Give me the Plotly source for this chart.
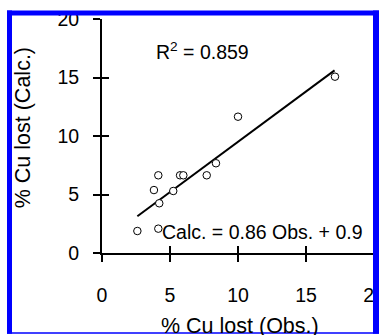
import plotly.graph_objects as go

# Data
obs = [2.6, 4.14, 4.21, 3.82, 5.24, 4.14, 5.74, 5.98, 7.7, 8.38, 10.0, 17.13]
calc = [1.88, 2.08, 4.25, 5.38, 5.3, 6.64, 6.64, 6.64, 6.64, 7.67, 11.65, 15.07]
fit_x = [2.6, 17.1]
fit_y = [3.14, 15.61]
tick_vals = [0, 5, 10, 15, 20]
tick_text = ["0", "5", "10", "15", "20"]
r2_label = "R<sup>2</sup> = 0.859"
eq_label = "Calc. = 0.86 Obs. + 0.9"
x_title = "% Cu lost (Obs.)"
y_title = "% Cu lost (Calc.)"

W, H = 384, 335
L, R, T, B = 102, 10, 18.5, 82
pw, ph = W - L - R, H - T - B

def px(xp):
    return (xp - L) / pw

def py(yp):
    return (H - B - yp) / ph

FONT = "Liberation Sans, Arial, sans-serif"

fig = go.Figure()
fig.add_trace(go.Scatter(x=fit_x, y=fit_y, mode="lines",
                         line=dict(color="black", width=2), showlegend=False,
                         hoverinfo="skip"))
fig.add_trace(go.Scatter(x=obs, y=calc, mode="markers",
                         marker=dict(symbol="circle", size=7.5, color="white",
                                     line=dict(color="black", width=1)),
                         showlegend=False))
# dummy trace to create overlay axes for the inside half of the ticks
fig.add_trace(go.Scatter(x=[None], y=[None], xaxis="x2", yaxis="y2",
                         showlegend=False, hoverinfo="skip"))

axis_common = dict(range=[0, 20], tickvals=tick_vals, ticktext=tick_text,
                   showgrid=False, zeroline=False, showline=True,
                   linecolor="black", linewidth=2, ticks="outside", ticklen=7,
                   tickwidth=2, tickcolor="black", ticklabeloverflow="allow",
                   automargin=False,
                   tickfont=dict(family=FONT, size=19.5, color="black"))

fig.update_layout(
    width=W, height=H,
    margin=dict(l=L, r=R, t=T, b=B, pad=0, autoexpand=False),
    paper_bgcolor="white", plot_bgcolor="white",
    xaxis=dict(**axis_common, ticklabelstandoff=17),
    yaxis=dict(**axis_common, ticklabelstandoff=10),
    xaxis2=dict(range=[0, 20], tickvals=tick_vals, overlaying="x", anchor="y",
                showgrid=False, zeroline=False, showline=False,
                ticks="inside", ticklen=7, tickwidth=2, tickcolor="black",
                showticklabels=False, automargin=False),
    yaxis2=dict(range=[0, 20], tickvals=tick_vals, overlaying="y", anchor="x",
                showgrid=False, zeroline=False, showline=False,
                ticks="inside", ticklen=7, tickwidth=2, tickcolor="black",
                showticklabels=False, automargin=False),
    font=dict(family=FONT, color="black"),
)

fig.add_annotation(x=3.85, y=17.3, xref="x", yref="y", text=r2_label,
                   showarrow=False, xanchor="left", yanchor="middle",
                   font=dict(family=FONT, size=19.5, color="black"))
fig.add_annotation(x=4.3, y=1.8, xref="x", yref="y", text=eq_label,
                   showarrow=False, xanchor="left", yanchor="middle",
                   font=dict(family=FONT, size=19.5, color="black"))
fig.add_annotation(x=px(240), y=py(326), xref="paper", yref="paper",
                   text=x_title, showarrow=False, xanchor="center",
                   yanchor="middle",
                   font=dict(family=FONT, size=21.5, color="black"))
fig.add_annotation(x=px(23), y=py(128), xref="paper", yref="paper",
                   text=y_title, showarrow=False, textangle=-90,
                   xanchor="center", yanchor="middle",
                   font=dict(family=FONT, size=21.5, color="black"))

# white mask outside the border, then the blue border
white_rects = [(0, 0, 7, H), (379, 0, W, H), (0, 0, W, 10), (0, 334, W, H)]
for x0, y0, x1, y1 in white_rects:
    fig.add_shape(type="rect", xref="paper", yref="paper",
                  x0=px(x0), x1=px(x1), y0=py(y0), y1=py(y1),
                  fillcolor="white", line=dict(width=0), layer="above")
blue_rects = [(7, 10, 12, 334), (373, 10, 379, 334), (7, 10, 379, 15),
              (7, 332.5, 379, 334)]
for x0, y0, x1, y1 in blue_rects:
    fig.add_shape(type="rect", xref="paper", yref="paper",
                  x0=px(x0), x1=px(x1), y0=py(y0), y1=py(y1),
                  fillcolor="#0000ff", line=dict(width=0), layer="above")

fig.write_html("out.html")
